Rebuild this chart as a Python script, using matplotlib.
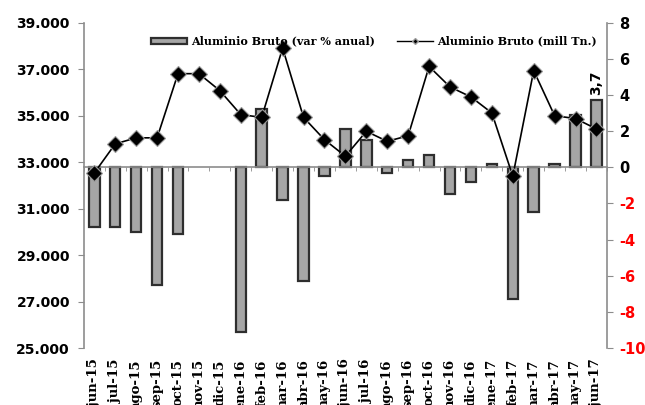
import numpy as np
import matplotlib
matplotlib.use("Agg")
import matplotlib.pyplot as plt
from matplotlib.lines import Line2D
from matplotlib.patches import Patch

months = ['jun-15', 'jul-15', 'ago-15', 'sep-15', 'oct-15', 'nov-15', 'dic-15',
          'ene-16', 'feb-16', 'mar-16', 'abr-16', 'may-16', 'jun-16', 'jul-16',
          'ago-16', 'sep-16', 'oct-16', 'nov-16', 'dic-16', 'ene-17', 'feb-17',
          'mar-17', 'abr-17', 'may-17', 'jun-17']
var_pct = [-3.3, -3.3, -3.6, -6.5, -3.7, np.nan, np.nan, -9.1, 3.2, -1.8, -6.3,
           -0.5, 2.1, 1.5, -0.3, 0.4, 0.7, -1.5, -0.8, 0.2, -7.3, -2.5, 0.2,
           2.9, 3.7]
prod_mil_tn = [32.53, 33.78, 34.04, 34.04, 36.80, 36.80, 36.07, 35.04, 34.92,
               37.90, 34.92, 33.96, 33.25, 34.32, 33.89, 34.13, 37.11, 36.23,
               35.80, 35.11, 32.39, 36.93, 34.99, 34.87, 34.42]
left_ticks = [25, 27, 29, 31, 33, 35, 37, 39]
right_ticks = [-10, -8, -6, -4, -2, 0, 2, 4, 6, 8]
bar_label = "3,7"
legend_bar = "Aluminio Bruto (var % anual)"
legend_line = "Aluminio Bruto (mill Tn.)"

fig = plt.figure(figsize=(6.45, 4.05), dpi=100)
ax = fig.add_axes([0.130, 0.1407, 0.811, 0.8037])
ax2 = ax.twinx()

x = np.arange(len(months))
grey = '#8c8c8c'

# bars on the right axis
ax2.bar(x, var_pct, width=0.5, color='#a6a6a6', edgecolor='#2e2e2e',
        linewidth=1.6, zorder=2)
ax2.set_ylim(-10, 8)
ax2.set_yticks(right_ticks)
ax2.set_yticklabels([str(t) for t in right_ticks], fontsize=10.5,
                    fontweight='bold', family='DejaVu Sans')
for lab, t in zip(ax2.get_yticklabels(), right_ticks):
    lab.set_color('#ff0000' if t < 0 else 'black')
ax2.tick_params(axis='y', length=4, color=grey, pad=5)

# zero baseline with category ticks
ax2.xaxis.set_visible(True)
ax2.spines['bottom'].set_position(('data', 0))
ax2.spines['bottom'].set_color(grey)
ax2.spines['bottom'].set_linewidth(1.2)
ax2.spines['top'].set_visible(False)
ax2.spines['left'].set_visible(False)
ax2.spines['right'].set_color(grey)
ax2.spines['right'].set_linewidth(1.2)
ax2.tick_params(axis='x', which='major', length=0, labelbottom=False)
ax2.tick_params(axis='x', which='minor', length=3, color=grey, direction='out')

# value label on last bar
ax2.annotate(bar_label, xy=(x[-1], var_pct[-1]), xytext=(0, 4),
             textcoords='offset points', rotation=90, ha='center', va='bottom',
             fontsize=10, fontweight='bold', family='DejaVu Sans')

# line on the left axis
ax.set_zorder(ax2.get_zorder() + 1)
ax.patch.set_visible(False)
ax.plot(x, prod_mil_tn, color='black', linewidth=1.2, marker='D',
        markersize=8.5, markerfacecolor='black', markeredgecolor='#9a9a9a',
        markeredgewidth=0.8, zorder=3)
ax.set_ylim(25, 39)
ax.set_yticks(left_ticks)
ax.set_yticklabels([f"{t * 1000:,}".replace(',', '.') for t in left_ticks],
                   fontsize=10, fontweight='bold', family='DejaVu Sans')
ax.tick_params(axis='y', length=4, color=grey, pad=6)
ax.set_xlim(-0.5, len(months) - 0.5)
ax.set_xticks(x)
ax.set_xticks(np.arange(-0.5, len(months), 1), minor=True)
ax.set_xticklabels(months, rotation=90, fontsize=9.5, fontweight='bold',
                   family='DejaVu Serif', va='top')
ax.tick_params(axis='x', which='both', length=0, pad=8)
ax.spines['top'].set_visible(False)
ax.spines['right'].set_visible(False)
ax.spines['bottom'].set_visible(False)
ax.spines['left'].set_color(grey)
ax.spines['left'].set_linewidth(1.2)

handles = [Patch(facecolor='#a6a6a6', edgecolor='#2e2e2e', linewidth=1.6),
           Line2D([], [], color='black', linewidth=1, marker='D', markersize=3,
                  markerfacecolor='black', markeredgecolor='#9a9a9a')]
ax.legend(handles, [legend_bar, legend_line], loc='center',
          bbox_to_anchor=(0.555, 0.943), ncol=2, frameon=False,
          prop={'family': 'DejaVu Serif', 'weight': 'bold', 'size': 8},
          handlelength=3.2, handleheight=0.45, columnspacing=2.0,
          handletextpad=0.4)

fig.savefig('out.png', dpi=100)
